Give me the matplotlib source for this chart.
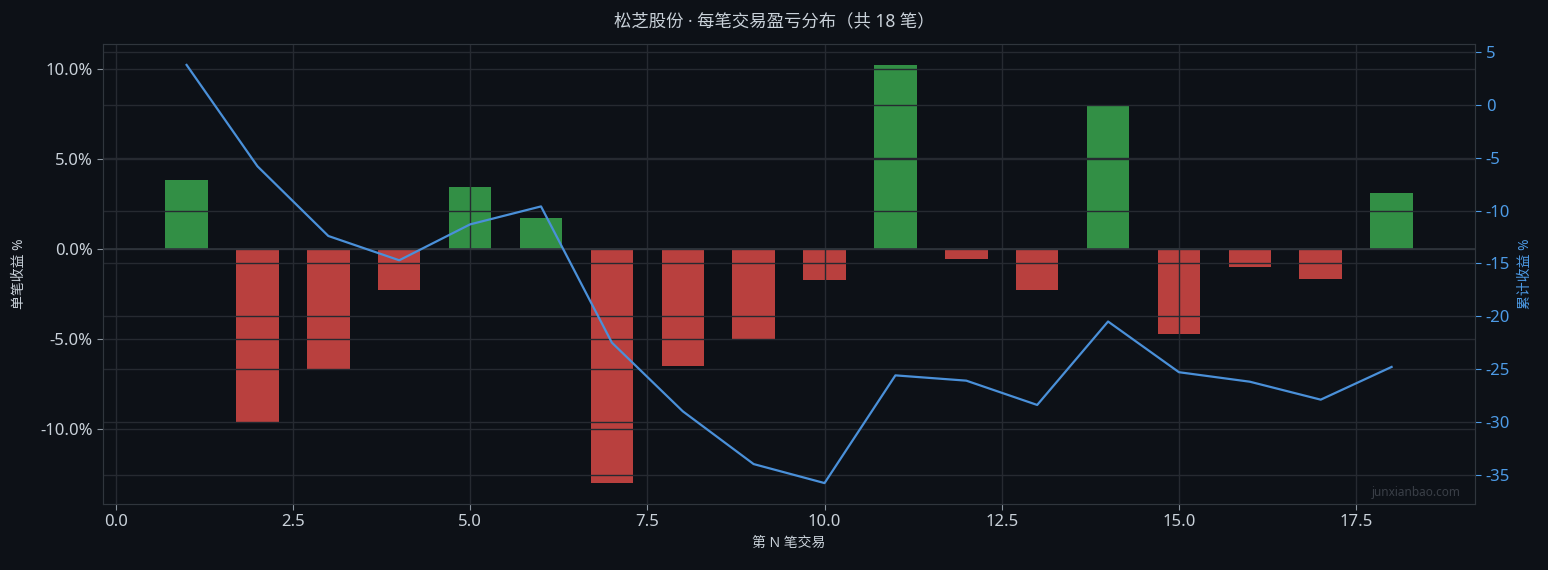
import matplotlib
matplotlib.use("Agg")
import matplotlib.pyplot as plt
from matplotlib.ticker import FuncFormatter

# ----------------------------
# Data
# ----------------------------
trade_no = list(range(1, 19))
trade_ret = [3.8, -9.6, -6.7, -2.3, 3.4, 1.7, -13.0, -6.5, -5.0,
             -1.75, 10.2, -0.55, -2.3, 7.9, -4.75, -1.0, -1.7, 3.1]
cum_ret = [3.8, -5.8, -12.4, -14.7, -11.3, -9.6, -22.5, -29.0, -34.0,
           -35.8, -25.6, -26.1, -28.4, -20.5, -25.3, -26.2, -27.9, -24.8]

TITLE = "松芝股份 · 每笔交易盈亏分布（共 18 笔）"

# ----------------------------
# Style
# ----------------------------
BG = "#0d1117"
GRID = "#262a31"
SPINE = "#30363d"
TEXT = "#c9d1d9"
GREEN = "#328f45"
RED = "#b9403e"
BLUE = "#4a90d9"
BLUE_TXT = "#4d9be6"

plt.rcParams["font.family"] = ["Noto Sans", "Noto Sans CJK SC"]
plt.rcParams["axes.unicode_minus"] = False

fig = plt.figure(figsize=(15.48, 5.7), dpi=100, facecolor=BG)
ax = fig.add_axes([0.0665, 0.1158, 0.8865, 0.807])
ax.set_facecolor(BG)

colors = [GREEN if v >= 0 else RED for v in trade_ret]
ax.bar(trade_no, trade_ret, width=0.6, color=colors)
ax.axhline(0, color=SPINE, lw=1.2)

ax.grid(True, color=GRID, lw=1.0)
ax.yaxis.set_major_formatter(FuncFormatter(lambda v, p: f"{v:.1f}%"))
ax.tick_params(colors=TEXT, labelsize=12, length=4)
ax.tick_params(axis="both", color="#8b949e")
for s in ax.spines.values():
    s.set_color(SPINE)
ax.set_ylabel("单笔收益 %", color=TEXT, fontsize=10, labelpad=9)
ax.set_xlabel("第 N 笔交易", color=TEXT, fontsize=10)

ax2 = ax.twinx()
ax2.plot(trade_no, cum_ret, color=BLUE, lw=1.6)
ax2.grid(True, axis="y", color=GRID, lw=1.0)
ax2.tick_params(axis="y", colors=BLUE_TXT, labelsize=12, length=4)
for s in ax2.spines.values():
    s.set_color(SPINE)
ax2.set_ylabel("累计收益 %", color=BLUE_TXT, fontsize=10, labelpad=6)

fig.suptitle(TITLE, color=TEXT, fontsize=12.5, y=0.963, va="center")
ax.text(0.989, 0.026, "junxianbao.com", transform=ax.transAxes, ha="right",
        va="center", color="#3a3f47", fontsize=8.5)

fig.savefig("out.png", dpi=100, facecolor=BG)
